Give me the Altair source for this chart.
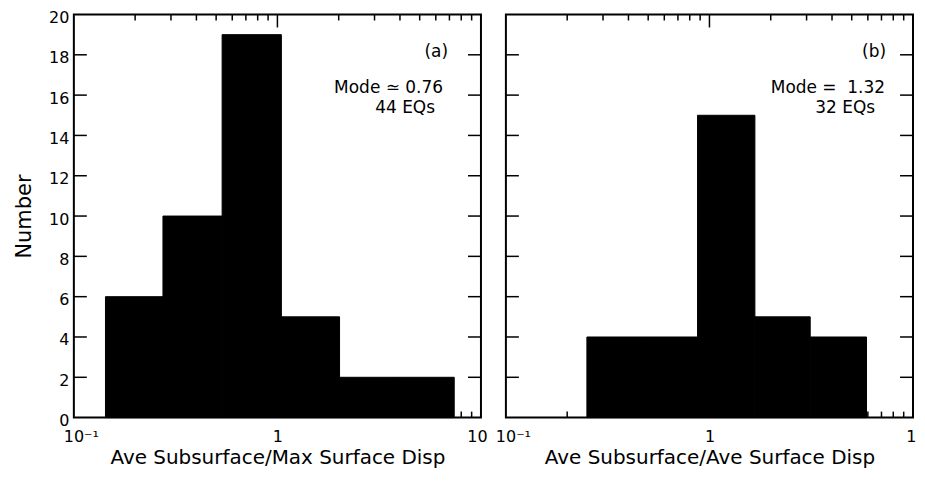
import altair as alt
import pandas as pd

# ---- data ----
left_edges = [0.143, 0.274, 0.535, 1.046, 2.02, 3.87, 7.39]
left_counts = [6, 10, 19, 5, 2, 2]
right_edges = [0.250, 0.468, 0.874, 1.672, 3.126, 5.91]
right_counts = [4, 4, 15, 5, 4]

y_label_values = [0, 2, 4, 6, 8, 10, 12, 14, 16, 18, 20]
y_inner_ticks = [2, 4, 6, 8, 10, 12, 14, 16, 18]
x_label_values = [0.1, 1, 10]
x_label_texts = ["10⁻¹", "1", "10"]
x_minor_ticks = [0.2, 0.3, 0.4, 0.5, 0.6, 0.7, 0.8, 0.9, 2, 3, 4, 5, 6, 7, 8, 9]
x_major_ticks = [1]

left_title = "Ave Subsurface/Max Surface Disp"
right_title = "Ave Subsurface/Ave Surface Disp"
y_title = "Number"
left_notes = ["(a)", "Mode ≃ 0.76", "44 EQs"]
right_notes = ["(b)", "Mode =\u00a0 1.32", "32 EQs"]

# ---- styling ----
FONT = "DejaVu Sans"
W, H = 408, 404
left_note_pos = [(375, 38), (370, 74), (362, 94)]
right_note_pos = [(381, 38), (380, 74), (370, 94)]
left_label_shift = (7, -4)
right_label_shift = (7, 3)

label_expr = "datum.value < 0.5 ? '%s' : datum.value < 5 ? '%s' : '%s'" % tuple(x_label_texts)


def panel(edges, counts, xtitle, notes, note_pos, shift, show_y):
    xs = alt.Scale(type="log", domain=[0.1, 10], nice=False)
    ys = alt.Scale(domain=[0, 20], nice=False)
    bars_df = pd.DataFrame({"lo": edges[:-1], "hi": edges[1:], "n": counts})
    xaxis = alt.Axis(values=x_label_values, labelExpr=label_expr, title=xtitle,
                     ticks=False, domain=False, grid=False, labelFlush=False,
                     labelOverlap=False, labelPadding=11, titlePadding=3,
                     labelOffset={"condition": [
                         {"test": "datum.value < 0.5", "value": shift[0]},
                         {"test": "datum.value > 5", "value": shift[1]}],
                         "value": 0},
                     labelFontSize=16, titleFontSize=20, labelColor="black",
                     titleColor="black", titleFontWeight="normal", labelFont=FONT,
                     titleFont=FONT)
    if show_y:
        yaxis = alt.Axis(values=y_label_values, title=y_title, ticks=False,
                         domain=False, grid=False, labelPadding=5, labelOffset=3,
                         minExtent=26, maxExtent=26, titlePadding=13,
                         labelFontSize=16, titleFontSize=21, labelColor="black",
                         titleColor="black", titleFontWeight="normal",
                         labelFont=FONT, titleFont=FONT)
    else:
        yaxis = None
    bars = alt.Chart(bars_df).mark_rect(color="black", stroke="black", strokeWidth=1).encode(
        x=alt.X("lo:Q", scale=xs, axis=xaxis),
        x2="hi:Q",
        y=alt.Y("n:Q", scale=ys, axis=yaxis),
        y2=alt.datum(0),
    )
    layers = [bars]
    tick_style = dict(color="black", strokeWidth=1.5)
    minor_df = pd.DataFrame({"v": x_minor_ticks})
    major_df = pd.DataFrame({"v": x_major_ticks})
    yt_df = pd.DataFrame({"v": y_inner_ticks})
    for df, ln in ((minor_df, 6), (major_df, 13)):
        layers.append(alt.Chart(df).mark_rule(**tick_style).encode(
            x=alt.X("v:Q", scale=xs, axis=xaxis), y=alt.value(0), y2=alt.value(ln)))
        layers.append(alt.Chart(df).mark_rule(**tick_style).encode(
            x=alt.X("v:Q", scale=xs, axis=xaxis), y=alt.value(H - ln), y2=alt.value(H)))
    layers.append(alt.Chart(yt_df).mark_rule(**tick_style).encode(
        y=alt.Y("v:Q", scale=ys, axis=yaxis), x=alt.value(0), x2=alt.value(13)))
    layers.append(alt.Chart(yt_df).mark_rule(**tick_style).encode(
        y=alt.Y("v:Q", scale=ys, axis=yaxis), x=alt.value(W - 13), x2=alt.value(W)))
    for txt, (px, py) in zip(notes, note_pos):
        layers.append(alt.Chart(pd.DataFrame({"t": [txt]})).mark_text(
            align="right", baseline="middle", fontSize=17, font=FONT, color="black"
        ).encode(text="t:N", x=alt.value(px), y=alt.value(py)))
    return alt.layer(*layers).properties(width=W, height=H)


left = panel(left_edges, left_counts, left_title, left_notes, left_note_pos,
             left_label_shift, True)
right = panel(right_edges, right_counts, right_title, right_notes, right_note_pos,
              right_label_shift, False)

chart = alt.hconcat(left, right, spacing=25, bounds="flush").properties(
    padding={"left": 5, "top": 0, "right": -11, "bottom": 1}
).configure(font=FONT).configure_view(stroke="black", strokeWidth=2)

chart.save("out.html", embed_options={"renderer": "svg", "actions": False})
